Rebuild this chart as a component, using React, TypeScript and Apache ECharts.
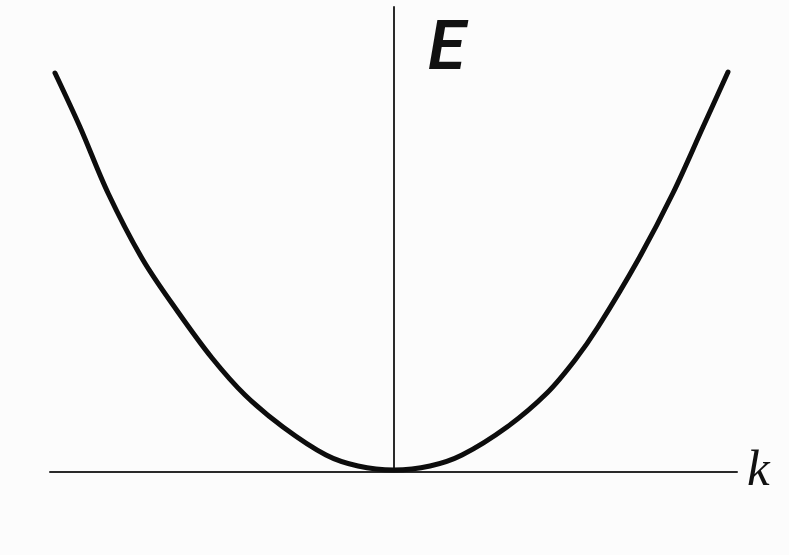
import React, { useEffect, useRef } from "react";
import * as echarts from "echarts";

// Dispersion curve E(k) sampled along the band
const kValues = [
  -3.39, -3.14, -2.86, -2.51, -2.16, -1.82, -1.49, -1.11, -0.68, -0.36, 0,
  0.36, 0.68, 1.13, 1.53, 1.81, 2.04, 2.44, 2.79, 3.09, 3.34,
];
const eValues = [
  3.99, 3.45, 2.79, 2.12, 1.6, 1.14, 0.77, 0.45, 0.17, 0.06, 0.02,
  0.06, 0.17, 0.45, 0.79, 1.12, 1.45, 2.12, 2.79, 3.45, 4.0,
];

const kRange = [-3.44, 3.43];
const eRange = [0, 4.65];

const axisTitles = { energy: "E", wave: "k" };

export default function App() {
  const ref = useRef<HTMLDivElement>(null);

  useEffect(() => {
    document.body.style.margin = "0";
    if (!ref.current) return;
    const chart = echarts.init(ref.current, null, { renderer: "svg" });
    const points = kValues.map((k, i) => [k, eValues[i]]);
    chart.setOption({
      animation: false,
      backgroundColor: "#fcfcfc",
      grid: { left: 50, right: 52, top: 7, bottom: 83 },
      xAxis: {
        type: "value",
        min: kRange[0],
        max: kRange[1],
        axisLine: { show: true, onZero: true, lineStyle: { color: "#2a2a2a", width: 2 } },
        axisTick: { show: false },
        axisLabel: { show: false },
        splitLine: { show: false },
      },
      yAxis: {
        type: "value",
        min: eRange[0],
        max: eRange[1],
        axisLine: { show: true, onZero: true, lineStyle: { color: "#2a2a2a", width: 2 } },
        axisTick: { show: false },
        axisLabel: { show: false },
        splitLine: { show: false },
      },
      series: [
        {
          type: "line",
          data: points,
          smooth: 0.33,
          showSymbol: false,
          lineStyle: { color: "#0d0d0d", width: 5, cap: "round", join: "round" },
          z: 3,
        },
      ],
      graphic: [
        {
          type: "text",
          left: 428,
          top: 12,
          style: {
            text: axisTitles.energy,
            font: "italic 600 68px Roboto",
            fill: "#111",
          },
        },
        {
          type: "text",
          left: 747,
          top: 442,
          style: {
            text: axisTitles.wave,
            font: "italic 51px 'Liberation Serif'",
            fill: "#111",
          },
        },
      ],
    });
    return () => chart.dispose();
  }, []);

  return <div ref={ref} style={{ width: 789, height: 555 }} />;
}
